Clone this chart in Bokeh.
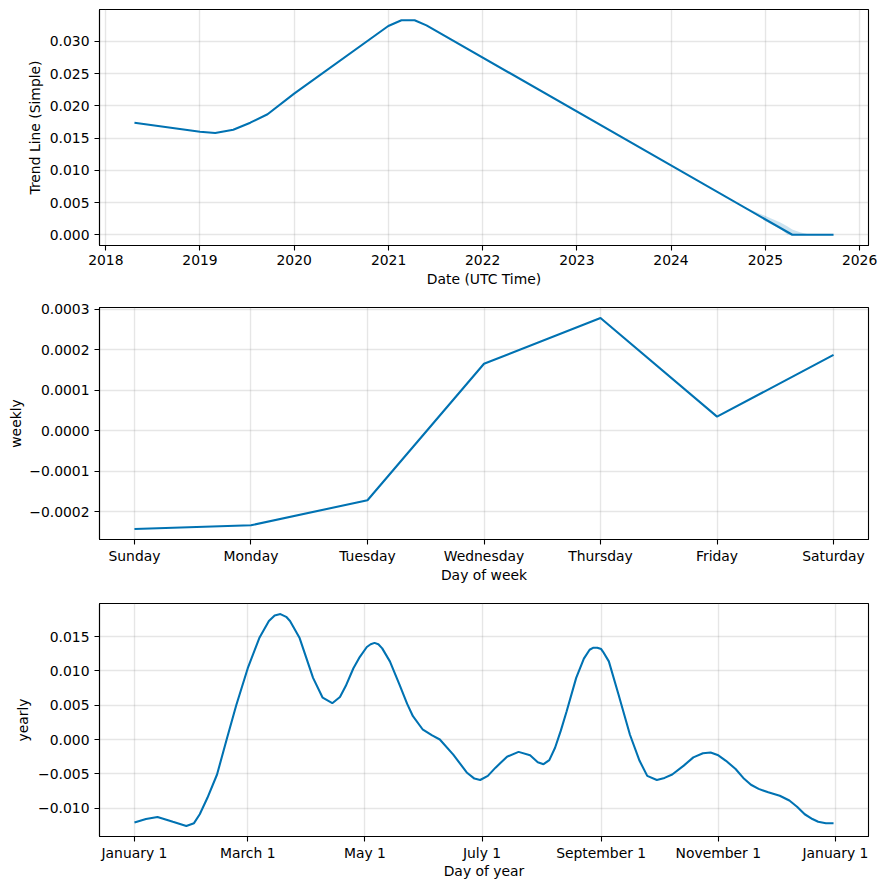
import numpy as np
import pandas as pd
from bokeh.plotting import figure
from bokeh.layouts import column
from bokeh.models import FixedTicker, Range1d, DatetimeTickFormatter
from bokeh.embed import file_html
from bokeh.resources import INLINE

# ---------------- data ----------------
trend_dates = ["2018-04-22", "2019-01-01", "2019-03-01", "2019-05-10", "2019-07-15",
               "2019-09-20", "2020-01-01", "2020-12-31", "2021-02-20", "2021-04-12",
               "2021-05-28", "2025-04-15", "2025-09-22"]
trend_values = [0.0174, 0.0160, 0.0158, 0.0163, 0.0174,
                0.0187, 0.0219, 0.0324, 0.0333, 0.0333,
                0.0325, 0.0, 0.0]

band_dates = ["2024-10-01", "2025-01-01", "2025-02-28", "2025-03-28", "2025-04-15",
              "2025-05-15", "2025-06-15", "2025-07-01", "2025-09-22"]
band_lower = [0.0045, 0.0021, 0.0009, 0.0, 0.0, 0.0, 0.0, 0.0, 0.0]
band_upper = [0.0045, 0.0029, 0.0019, 0.0013, 0.0008, 0.0004, 0.0001, 0.0, 0.0]

trend_years = [2018, 2019, 2020, 2021, 2022, 2023, 2024, 2025, 2026]
trend_y_ticks = [0.0, 0.005, 0.010, 0.015, 0.020, 0.025, 0.030]
trend_y_labels = ["0.000", "0.005", "0.010", "0.015", "0.020", "0.025", "0.030"]

weekdays = ["Sunday", "Monday", "Tuesday", "Wednesday", "Thursday", "Friday", "Saturday"]
weekly_values = [-0.000243, -0.000234, -0.000172, 0.000165, 0.000278, 0.0000344, 0.000187]
weekly_y_ticks = [-0.0002, -0.0001, 0.0, 0.0001, 0.0002, 0.0003]
weekly_y_labels = ["\u22120.0002", "\u22120.0001", "0.0000", "0.0001", "0.0002", "0.0003"]

yearly_days = [0, 6, 12, 20, 27, 31, 34, 38, 43, 48, 53, 59, 65, 70, 73, 76, 79, 81, 86,
               93, 98, 103, 107, 110, 114, 117, 121, 123, 125, 127, 129, 133, 138, 142,
               145, 150, 155, 159, 166, 173, 177, 180, 184, 188, 194, 200, 206, 210, 213,
               216, 219, 222, 225, 230, 234, 237, 239, 241, 243, 244, 247, 252, 258, 263,
               267, 272, 276, 280, 286, 291, 296, 300, 304, 308, 313, 317, 321, 325, 330,
               336, 341, 345, 349, 353, 356, 360, 364]
yearly_values = [-0.0121, -0.0116, -0.0113, -0.0120, -0.0126, -0.0122, -0.0109, -0.0085,
                 -0.0051, 0.0000, 0.0050, 0.0104, 0.0148, 0.0173, 0.0181, 0.0183, 0.0179,
                 0.0173, 0.0148, 0.0090, 0.0061, 0.0053, 0.0062, 0.0078, 0.0104, 0.0119,
                 0.0135, 0.0139, 0.0141, 0.0139, 0.0133, 0.0114, 0.0080, 0.0052, 0.0034,
                 0.0015, 0.0006, 0.0000, -0.0022, -0.0048, -0.0057, -0.0059, -0.0053,
                 -0.0041, -0.0025, -0.0018, -0.0023, -0.0033, -0.0036, -0.0030, -0.0012,
                 0.0013, 0.0041, 0.0090, 0.0118, 0.0131, 0.0134, 0.0134, 0.0132, 0.0128,
                 0.0114, 0.0066, 0.0007, -0.0031, -0.0053, -0.0059, -0.0056, -0.0051,
                 -0.0038, -0.0026, -0.0020, -0.0019, -0.0023, -0.0031, -0.0043, -0.0056,
                 -0.0066, -0.0072, -0.0077, -0.0082, -0.0089, -0.0098, -0.0109, -0.0116,
                 -0.0120, -0.0122, -0.0122]
month_tick_days = [0, 59, 120, 181, 243, 304, 365]
month_tick_labels = ["January 1", "March 1", "May 1", "July 1", "September 1",
                     "November 1", "January 1"]
yearly_y_ticks = [-0.010, -0.005, 0.0, 0.005, 0.010, 0.015]
yearly_y_labels = ["\u22120.010", "\u22120.005", "0.000", "0.005", "0.010", "0.015"]

# ---------------- style ----------------
BLUE = "#0072B2"
FONT = "DejaVu Sans"
FS = "13.9px"


def margins(lo, hi, frac=0.05):
    span = hi - lo
    return lo - frac * span, hi + frac * span


def style(p, xlabel, ylabel, x_tick_standoff, x_label_standoff, y_label_standoff=4):
    p.background_fill_color = "white"
    p.border_fill_color = "white"
    p.outline_line_color = "black"
    p.outline_line_width = 1.1
    p.outline_line_alpha = 1.0
    for ax in (p.xaxis[0], p.yaxis[0]):
        ax.axis_line_color = "black"
        ax.axis_line_width = 1.1
        ax.major_tick_line_color = "black"
        ax.major_tick_line_width = 1.1
        ax.major_tick_out = 5
        ax.major_tick_in = 0
        ax.minor_tick_line_color = None
        ax.major_label_text_font = FONT
        ax.major_label_text_font_size = FS
        ax.major_label_text_color = "black"
        ax.axis_label_text_font = FONT
        ax.axis_label_text_font_size = FS
        ax.axis_label_text_font_style = "normal"
        ax.axis_label_text_color = "black"
    p.xaxis.major_label_standoff = x_tick_standoff
    p.xaxis.axis_label_standoff = x_label_standoff
    p.yaxis.major_label_standoff = 5
    p.yaxis.axis_label_standoff = y_label_standoff
    p.xaxis.axis_label = xlabel
    p.yaxis.axis_label = ylabel
    for g in (p.xgrid[0], p.ygrid[0]):
        g.grid_line_color = "gray"
        g.grid_line_alpha = 0.2
        g.grid_line_width = 1.39


common = dict(width=889, output_backend="svg", toolbar_location=None,
              min_border_left=99, min_border_right=21)

# ---------------- panel 1: trend ----------------
td = pd.to_datetime(trend_dates)
bd = pd.to_datetime(band_dates)
x_lo, x_hi = margins(td.min().value / 1e6, td.max().value / 1e6)
y_lo, y_hi = margins(min(min(trend_values), min(band_lower)),
                     max(max(trend_values), max(band_upper)))
p1 = figure(x_axis_type="datetime", height=295, min_border_top=9,
            min_border_bottom=50, x_range=Range1d(x_lo, x_hi),
            y_range=Range1d(y_lo, y_hi), **common)
p1.varea(x=bd, y1=band_lower, y2=band_upper, fill_color=BLUE, fill_alpha=0.2)
p1.line(td, trend_values, line_color=BLUE, line_width=2.08)
year_ms = [pd.Timestamp(f"{y}-01-01").value / 1e6 for y in trend_years]
p1.xaxis.ticker = FixedTicker(ticks=year_ms)
p1.xgrid.ticker = FixedTicker(ticks=year_ms)
p1.xaxis.formatter = DatetimeTickFormatter(years="%Y", months="%Y", days="%Y",
                                           hours="%Y", minutes="%Y")
p1.yaxis.ticker = FixedTicker(ticks=trend_y_ticks)
p1.ygrid.ticker = FixedTicker(ticks=trend_y_ticks)
p1.yaxis.major_label_overrides = dict(zip(trend_y_ticks, trend_y_labels))
style(p1, "Date (UTC Time)", "Trend Line (Simple)", 4, 3)

# ---------------- panel 2: weekly ----------------
wx = list(range(len(weekdays)))
wx_lo, wx_hi = margins(min(wx), max(wx))
wy_lo, wy_hi = margins(min(weekly_values), max(weekly_values))
p2 = figure(height=294, min_border_top=12, min_border_bottom=50,
            x_range=Range1d(wx_lo, wx_hi), y_range=Range1d(wy_lo, wy_hi), **common)
p2.line(wx, weekly_values, line_color=BLUE, line_width=2.08)
p2.xaxis.ticker = FixedTicker(ticks=wx)
p2.xgrid.ticker = FixedTicker(ticks=wx)
p2.xaxis.major_label_overrides = dict(zip(wx, weekdays))
p2.yaxis.ticker = FixedTicker(ticks=weekly_y_ticks)
p2.ygrid.ticker = FixedTicker(ticks=weekly_y_ticks)
p2.yaxis.major_label_overrides = dict(zip(weekly_y_ticks, weekly_y_labels))
style(p2, "Day of week", "weekly", 3, 0, 2)

# ---------------- panel 3: yearly ----------------
yx_lo, yx_hi = margins(min(yearly_days), max(yearly_days))
yy_lo, yy_hi = margins(min(yearly_values), max(yearly_values))
p3 = figure(height=297, min_border_top=14, min_border_bottom=50,
            x_range=Range1d(yx_lo, yx_hi), y_range=Range1d(yy_lo, yy_hi), **common)
p3.line(yearly_days, yearly_values, line_color=BLUE, line_width=2.08)
p3.xaxis.ticker = FixedTicker(ticks=month_tick_days)
p3.xgrid.ticker = FixedTicker(ticks=month_tick_days)
p3.xaxis.major_label_overrides = dict(zip(month_tick_days, month_tick_labels))
p3.yaxis.ticker = FixedTicker(ticks=yearly_y_ticks)
p3.ygrid.ticker = FixedTicker(ticks=yearly_y_ticks)
p3.yaxis.major_label_overrides = dict(zip(yearly_y_ticks, yearly_y_labels))
style(p3, "Day of year", "yearly", 3, -1)

layout = column(p1, p2, p3, spacing=0)
open("out.html", "w").write(file_html(layout, INLINE))
